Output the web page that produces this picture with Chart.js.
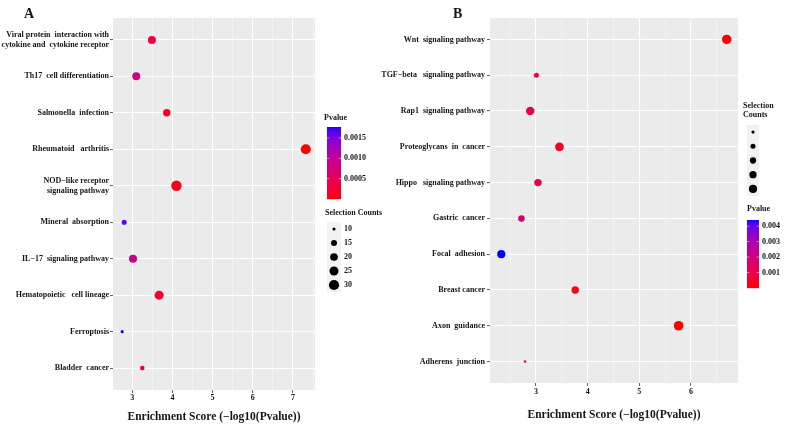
<!DOCTYPE html>
<html>
<head>
<meta charset="utf-8">
<script src="https://cdn.jsdelivr.net/npm/chart.js@4/dist/chart.umd.min.js"></script>
<style>
  body { margin: 0; background: #fff; }
  #wrap { position: relative; width: 786px; height: 428px; }
  canvas { position: absolute; top: 0; }
  #chartA { left: 0; }
  #chartB { left: 370px; }
</style>
</head>
<body>
<div id="wrap">
  <canvas id="chartA" width="392" height="428"></canvas>
  <canvas id="chartB" width="416" height="428"></canvas>
</div>
<script>
// ---- panel A data ----
const pathwaysA = [
  ['Viral protein  interaction with', 'cytokine and  cytokine receptor'],
  'Th17  cell differentiation',
  'Salmonella  infection',
  'Rheumatoid   arthritis',
  ['NOD\u2212like receptor', 'signaling pathway'],
  'Mineral  absorption',
  'IL\u221217  signaling pathway',
  'Hematopoietic   cell lineage',
  'Ferroptosis',
  'Bladder  cancer'
];
const scoreA = [3.49, 3.10, 3.86, 7.32, 4.10, 2.80, 3.02, 3.67, 2.75, 3.25];
const countA = [21, 21, 19, 29, 31, 13, 21, 25, 10, 12];
const pvalueA = [0.00032, 0.00079, 0.00014, 0.00000005, 0.00008, 0.00158, 0.00095, 0.00021, 0.00177, 0.00056];
const countBreaksA = [10, 15, 20, 25, 30];
const pvalueBreaksA = [0.0005, 0.0010, 0.0015];
const pvalueLabelsA = ['0.0005', '0.0010', '0.0015'];
const xTicksA = [3, 4, 5, 6, 7];

// ---- panel B data ----
const pathwaysB = [
  'Wnt  signaling pathway',
  'TGF\u2212beta   signaling pathway',
  'Rap1  signaling pathway',
  'Proteoglycans  in  cancer',
  'Hippo   signaling pathway',
  'Gastric  cancer',
  'Focal  adhesion',
  'Breast cancer',
  'Axon  guidance',
  'Adherens  junction'
];
const scoreB = [6.69, 3.01, 2.89, 3.455, 3.04, 2.72, 2.33, 3.76, 5.76, 2.79];
const countB = [39, 15, 32, 34, 26, 21, 30, 26, 40, 9];
const pvalueB = [0.0000002, 0.00098, 0.0013, 0.00035, 0.00091, 0.0019, 0.0044, 0.00017, 0.0000017, 0.0016];
const countBreaksB = [10, 15, 20, 25, 30];
const pvalueBreaksB = [0.001, 0.002, 0.003, 0.004];
const pvalueLabelsB = ['0.001', '0.002', '0.003', '0.004'];
const xTicksB = [3, 4, 5, 6];

const FONT = 'Liberation Serif, Times New Roman, serif';
const TEXT = '#151515';

// red -> blue gradient in Lab space (like ggplot scale_colour_gradient)
function rgb2lab(c) {
  const lin = c.map(v => { v /= 255; return v <= 0.04045 ? v / 12.92 : Math.pow((v + 0.055) / 1.055, 2.4); });
  const X = (0.4124 * lin[0] + 0.3576 * lin[1] + 0.1805 * lin[2]) / 0.95047;
  const Y = (0.2126 * lin[0] + 0.7152 * lin[1] + 0.0722 * lin[2]);
  const Z = (0.0193 * lin[0] + 0.1192 * lin[1] + 0.9505 * lin[2]) / 1.08883;
  const f = t => t > 0.008856 ? Math.cbrt(t) : 7.787 * t + 16 / 116;
  return [116 * f(Y) - 16, 500 * (f(X) - f(Y)), 200 * (f(Y) - f(Z))];
}
function lab2rgb(lab) {
  const fy = (lab[0] + 16) / 116, fx = lab[1] / 500 + fy, fz = fy - lab[2] / 200;
  const inv = f => f * f * f > 0.008856 ? f * f * f : (f - 16 / 116) / 7.787;
  const X = 0.95047 * inv(fx), Y = inv(fy), Z = 1.08883 * inv(fz);
  const lin = [
    3.2406 * X - 1.5372 * Y - 0.4986 * Z,
    -0.9689 * X + 1.8758 * Y + 0.0415 * Z,
    0.0557 * X - 0.2040 * Y + 1.0570 * Z
  ];
  return lin.map(v => {
    v = v <= 0.0031308 ? 12.92 * v : 1.055 * Math.pow(v, 1 / 2.4) - 0.055;
    return Math.round(Math.min(1, Math.max(0, v)) * 255);
  });
}
const labLow = rgb2lab([255, 0, 0]), labHigh = rgb2lab([0, 0, 255]);
function pColor(p, pMin, pMax) {
  const t = Math.min(1, Math.max(0, (p - pMin) / (pMax - pMin)));
  const rgb = lab2rgb(labLow.map((v, i) => v + (labHigh[i] - v) * t));
  return 'rgb(' + rgb.join(',') + ')';
}

const panelBg = {
  id: 'panelBg',
  beforeDraw(chart) {
    const { ctx, chartArea: a } = chart;
    ctx.save();
    ctx.fillStyle = '#EBEBEB';
    ctx.fillRect(a.left, a.top, a.right - a.left, a.bottom - a.top);
    ctx.restore();
  }
};

function sideLegend(d, radius, pMin, pMax) {
  return {
    id: 'sideLegend',
    afterDraw(chart) {
      const ctx = chart.ctx;
      ctx.save();
      ctx.fillStyle = TEXT;
      ctx.textBaseline = 'middle';
      ctx.textAlign = 'left';
      ctx.font = 'bold 14px ' + FONT;
      ctx.fillText(d.letter.text, d.letter.x, d.letter.y);

      // colour bar
      const cb = d.colorbar;
      ctx.font = 'bold 8px ' + FONT;
      ctx.fillText('Pvalue', cb.titleX, cb.titleY);
      for (let i = 0; i < cb.h; i++) {
        const p = pMax - (i + 0.5) / cb.h * (pMax - pMin);
        ctx.fillStyle = pColor(p, pMin, pMax);
        ctx.fillRect(cb.x, cb.y + i, cb.w, 1.2);
      }
      ctx.strokeStyle = 'rgba(255,255,255,0.8)';
      ctx.lineWidth = 0.6;
      cb.breaks.forEach((b, i) => {
        const y = cb.y + cb.h - (b - pMin) / (pMax - pMin) * cb.h;
        ctx.beginPath();
        ctx.moveTo(cb.x, y); ctx.lineTo(cb.x + 2.5, y);
        ctx.moveTo(cb.x + cb.w - 2.5, y); ctx.lineTo(cb.x + cb.w, y);
        ctx.stroke();
        ctx.fillStyle = TEXT;
        ctx.fillText(cb.labels[i], cb.x + cb.w + 3, y);
      });

      // size keys
      const sk = d.sizekey;
      ctx.fillStyle = TEXT;
      sk.title.forEach((t, i) => ctx.fillText(t, sk.titleX, sk.titleY + i * 9));
      sk.breaks.forEach((b, i) => {
        const y = sk.y + i * sk.keyH;
        ctx.fillStyle = '#F2F2F2';
        ctx.fillRect(sk.x, y, sk.w, sk.keyH);
        ctx.fillStyle = '#000';
        ctx.beginPath();
        ctx.arc(sk.x + sk.w / 2, y + sk.keyH / 2, radius(b), 0, Math.PI * 2);
        ctx.fill();
        if (sk.showLabels) {
          ctx.fillStyle = TEXT;
          ctx.fillText(String(b), sk.x + sk.w + 3, y + sk.keyH / 2);
        }
      });
      ctx.restore();
    }
  };
}

function makeChart(id, d) {
  const lo = Math.min(...d.score), hi = Math.max(...d.score);
  const pad = (hi - lo) * 0.05;
  const xmin = lo - pad, xmax = hi + pad;
  const pMin = Math.min(...d.pvalue), pMax = Math.max(...d.pvalue);
  const s = d.size;
  const radius = c => s.r0 + s.k * Math.sqrt(Math.max(0, (c - s.lo) / (s.hi - s.lo)));
  const isMajor = v => d.xTicks.includes(v);

  return new Chart(document.getElementById(id), {
    type: 'bubble',
    data: {
      datasets: [{
        data: d.score.map((x, i) => ({ x: x, y: i, r: radius(d.count[i]) })),
        backgroundColor: d.pvalue.map(p => pColor(p, pMin, pMax)),
        borderWidth: 0,
        hoverBorderWidth: 0
      }]
    },
    options: {
      responsive: false,
      animation: false,
      devicePixelRatio: 1,
      layout: { padding: { top: d.box.top, right: d.box.right, left: 0, bottom: 0 } },
      plugins: { legend: { display: false }, tooltip: { enabled: false } },
      scales: {
        x: {
          type: 'linear',
          min: xmin,
          max: xmax,
          afterBuildTicks: sc => {
            const t = [];
            for (let v = Math.ceil(xmin * 2) / 2; v <= xmax; v += 0.5) t.push({ value: v });
            sc.ticks = t;
          },
          afterFit: sc => { sc.height = d.box.xAxisH; },
          border: { display: false },
          grid: {
            color: c => isMajor(c.tick.value) ? '#FFFFFF' : 'rgba(255,255,255,0.85)',
            lineWidth: c => isMajor(c.tick.value) ? 1.1 : 0.55,
            tickColor: c => isMajor(c.tick.value) ? '#333333' : 'rgba(0,0,0,0)',
            tickWidth: 0.8,
            tickLength: 3
          },
          ticks: {
            autoSkip: false,
            maxRotation: 0,
            padding: d.box.xTickPad,
            color: TEXT,
            font: { family: FONT, size: 8, weight: 'bold' },
            callback: v => isMajor(v) ? String(v) : ''
          },
          title: {
            display: true,
            text: 'Enrichment Score (\u2212log10(Pvalue))',
            color: TEXT,
            font: { family: FONT, size: 11.5, weight: 'bold' },
            padding: { top: 0, bottom: d.box.titlePad }
          }
        },
        y: {
          type: 'linear',
          reverse: true,
          min: -0.6,
          max: d.labels.length - 1 + 0.6,
          afterBuildTicks: sc => { sc.ticks = d.labels.map((_, i) => ({ value: i })); },
          afterFit: sc => { sc.width = d.box.yAxisW; },
          border: { display: false },
          grid: {
            color: '#FFFFFF',
            lineWidth: 1.1,
            tickColor: '#333333',
            tickWidth: 0.8,
            tickLength: 3
          },
          ticks: {
            autoSkip: false,
            padding: d.box.yTickPad,
            color: TEXT,
            font: { family: FONT, size: 8, weight: 'bold', lineHeight: 1.25 },
            callback: v => d.labels[v]
          }
        }
      }
    },
    plugins: [panelBg, sideLegend(d, radius, pMin, pMax)]
  });
}

makeChart('chartA', {
  labels: pathwaysA, score: scoreA, count: countA, pvalue: pvalueA, xTicks: xTicksA,
  size: { lo: 9, hi: 31, r0: 0.6, k: 4.6 },
  box: { top: 18, right: 77, yAxisW: 113, xAxisH: 38, xTickPad: 0, yTickPad: 1, titlePad: 4 },
  letter: { text: 'A', x: 24, y: 14 },
  colorbar: { titleX: 324, titleY: 118, x: 327, y: 127, w: 14, h: 72,
              breaks: pvalueBreaksA, labels: pvalueLabelsA },
  sizekey: { title: ['Selection Counts'], titleX: 325, titleY: 213, x: 327, y: 222, w: 14, keyH: 14,
             breaks: countBreaksA, showLabels: true }
});

makeChart('chartB', {
  labels: pathwaysB, score: scoreB, count: countB, pvalue: pvalueB, xTicks: xTicksB,
  size: { lo: 8, hi: 40, r0: 0.5, k: 4.3 },
  box: { top: 18, right: 48, yAxisW: 120, xAxisH: 45, xTickPad: 1, yTickPad: 2, titlePad: 6 },
  letter: { text: 'B', x: 83, y: 14 },
  colorbar: { titleX: 377, titleY: 209, x: 377, y: 220, w: 12, h: 68,
              breaks: pvalueBreaksB, labels: pvalueLabelsB },
  sizekey: { title: ['Selection', 'Counts'], titleX: 373, titleY: 106, x: 377, y: 125, w: 12, keyH: 14.2,
             breaks: countBreaksB, showLabels: false }
});
</script>
</body>
</html>
